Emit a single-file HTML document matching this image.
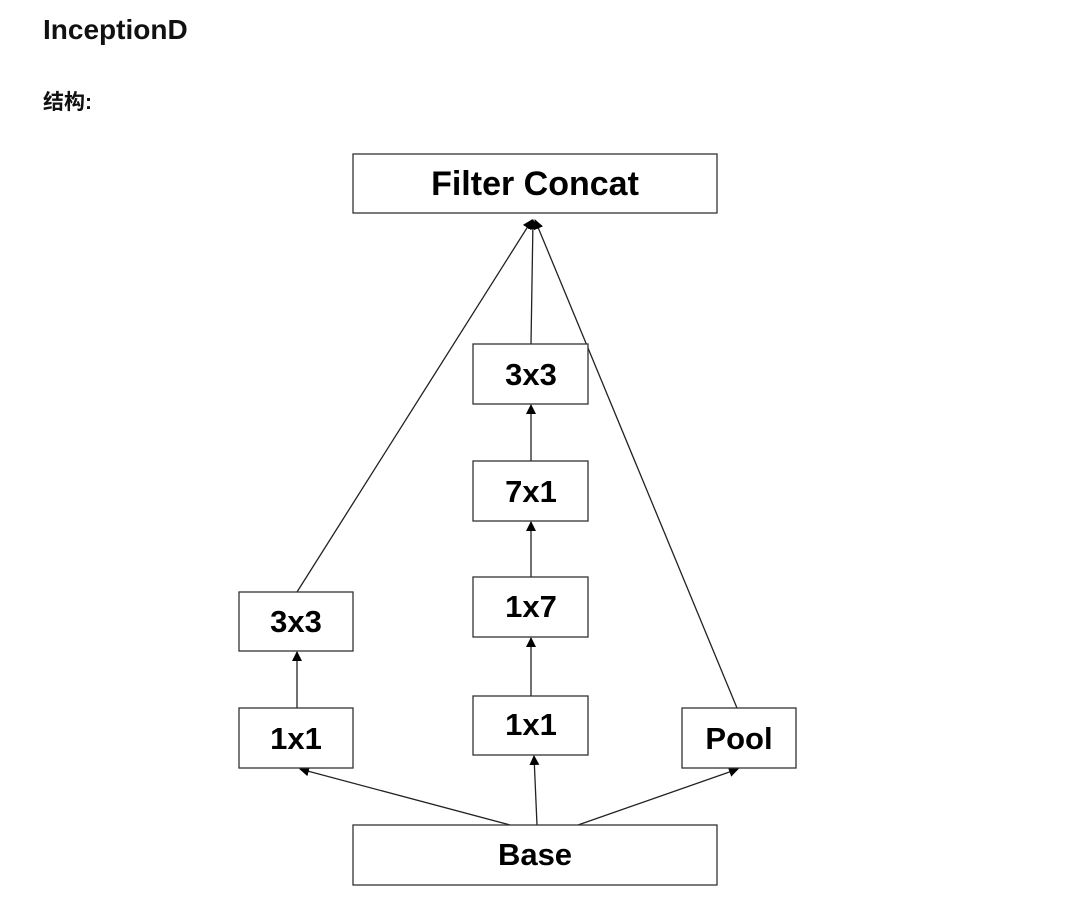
<!DOCTYPE html>
<html><head><meta charset="utf-8"><style>
body{margin:0;background:#fff;width:1069px;height:908px;overflow:hidden;font-family:"Liberation Sans","Noto Sans CJK SC",sans-serif;}
.h1{position:absolute;left:43px;top:14px;font-size:28px;font-weight:bold;color:#111;}
.h2{position:absolute;left:43px;top:86px;font-size:21px;font-weight:bold;color:#111;}
</style></head><body>
<div class="h1">InceptionD</div>
<div class="h2">结构:</div>
<svg width="1069" height="908" style="position:absolute;left:0;top:0">
<defs><marker id="a" markerWidth="10" markerHeight="10" refX="9" refY="5" orient="auto" markerUnits="userSpaceOnUse"><path d="M0,0L10,5L0,10z" fill="#000"/></marker></defs>
<g stroke="#222" stroke-width="1.3" fill="none">
<line x1="297" y1="592" x2="532" y2="220" marker-end="url(#a)"/>
<line x1="531" y1="344" x2="533" y2="220" marker-end="url(#a)"/>
<line x1="737" y1="708" x2="535" y2="220" marker-end="url(#a)"/>
<line x1="531" y1="461" x2="531" y2="405" marker-end="url(#a)"/>
<line x1="531" y1="577" x2="531" y2="522" marker-end="url(#a)"/>
<line x1="531" y1="696" x2="531" y2="638" marker-end="url(#a)"/>
<line x1="297" y1="708" x2="297" y2="652" marker-end="url(#a)"/>
<line x1="510" y1="825" x2="300" y2="769" marker-end="url(#a)"/>
<line x1="537" y1="825" x2="534" y2="756" marker-end="url(#a)"/>
<line x1="578" y1="825" x2="738" y2="769" marker-end="url(#a)"/>
</g>
<g stroke="#333" stroke-width="1.3" fill="#fff">
<rect x="353" y="154" width="364" height="59"/>
<rect x="353" y="825" width="364" height="60"/>
<rect x="239" y="592" width="114" height="59"/>
<rect x="239" y="708" width="114" height="60"/>
<rect x="473" y="344" width="115" height="60"/>
<rect x="473" y="461" width="115" height="60"/>
<rect x="473" y="577" width="115" height="60"/>
<rect x="473" y="696" width="115" height="59"/>
<rect x="682" y="708" width="114" height="60"/>
</g>
<g font-family="Liberation Sans, sans-serif" font-weight="bold" font-size="31" fill="#000" text-anchor="middle">
<text x="535" y="195" font-size="34">Filter Concat</text>
<text x="535" y="865">Base</text>
<text x="296" y="632">3x3</text>
<text x="296" y="749">1x1</text>
<text x="531" y="385">3x3</text>
<text x="531" y="502">7x1</text>
<text x="531" y="617">1x7</text>
<text x="531" y="735">1x1</text>
<text x="739" y="749">Pool</text>
</g>
</svg>
</body></html>
